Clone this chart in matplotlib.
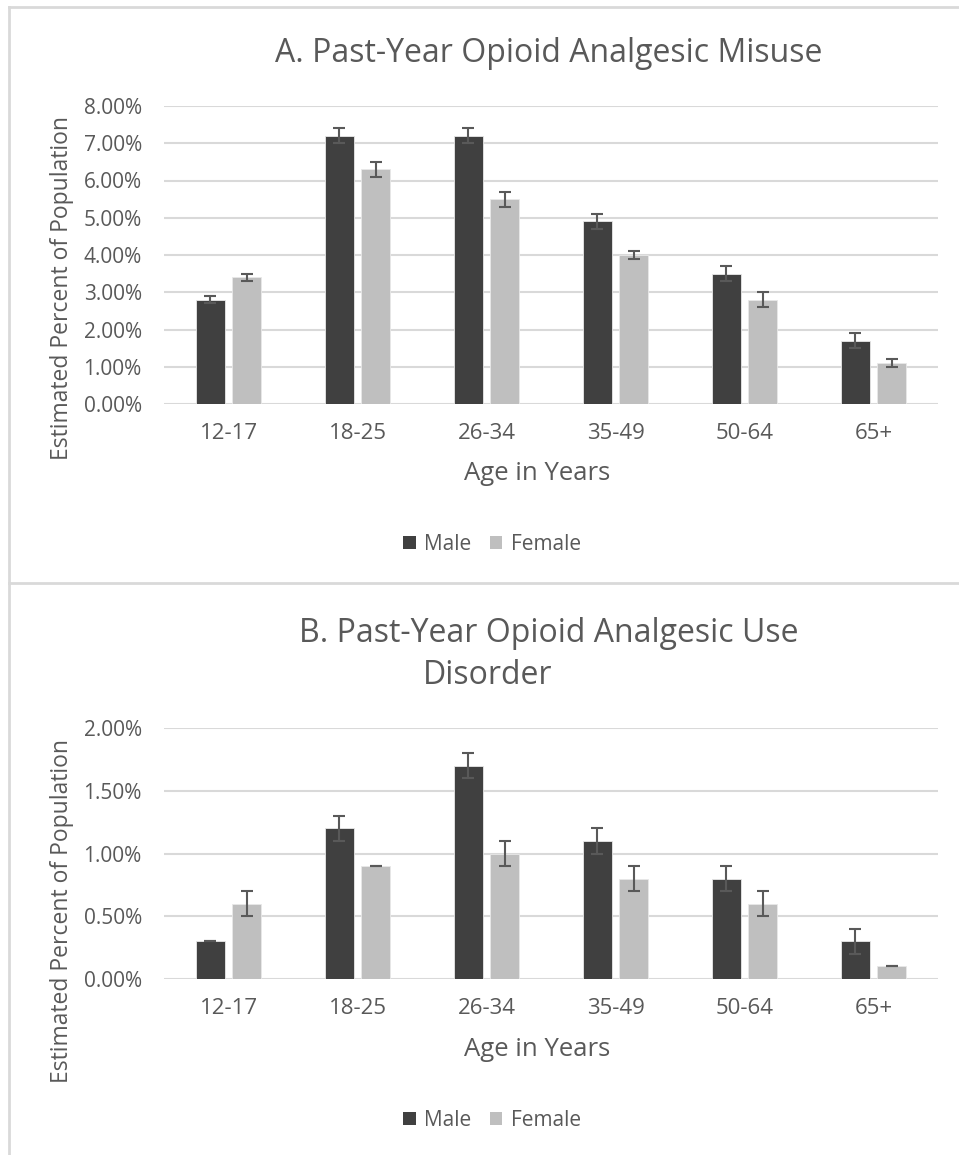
import matplotlib
matplotlib.use("Agg")
import matplotlib.pyplot as plt
from matplotlib.lines import Line2D
from matplotlib.patches import Patch
import numpy as np

plt.rcParams['font.family'] = ['Open Sans', 'DejaVu Sans']

categories = ["12-17", "18-25", "26-34", "35-49", "50-64", "65+"]
misuse_male = [2.8, 7.2, 7.2, 4.9, 3.5, 1.7]
misuse_male_err = [0.1, 0.2, 0.2, 0.2, 0.2, 0.2]
misuse_female = [3.4, 6.3, 5.5, 4.0, 2.8, 1.1]
misuse_female_err = [0.1, 0.2, 0.2, 0.1, 0.2, 0.1]
disorder_male = [0.3, 1.2, 1.7, 1.1, 0.8, 0.3]
disorder_male_err = [0.0, 0.1, 0.1, 0.1, 0.1, 0.1]
disorder_female = [0.6, 0.9, 1.0, 0.8, 0.6, 0.1]
disorder_female_err = [0.1, 0.0, 0.1, 0.1, 0.1, 0.0]
series_names = ["Male", "Female"]

W, H = 959, 1155
fig = plt.figure(figsize=(W / 100, H / 100), dpi=100)

TXT = "#595959"
GRID = "#D9D9D9"
MALE_C = "#404040"
FEM_C = "#BFBFBF"

def fx(px):
    return px / W

def fy(py):
    return 1 - py / H

def panel(ax_rect, male, male_err, fem, fem_err, ymax, ystep, title_lines,
          ylabel_y, xlabel_y, legend_y):
    ax = fig.add_axes(ax_rect)
    x = np.arange(len(categories))
    bw = 0.222
    off = 0.142
    ekw = dict(ecolor=TXT, elinewidth=1.5, capsize=4.5, capthick=1.5)
    ax.bar(x - off, male, bw, color=MALE_C, edgecolor="#E8E8E8", linewidth=0.6,
           yerr=male_err, error_kw=ekw, zorder=3)
    ax.bar(x + off, fem, bw, color=FEM_C, edgecolor="#E8E8E8", linewidth=0.6,
           yerr=fem_err, error_kw=ekw, zorder=3)
    ax.set_xlim(-0.5, len(categories) - 0.5)
    ax.set_ylim(0, ymax)
    ticks = np.arange(0, ymax + 1e-9, ystep)
    ax.set_yticks(ticks)
    ax.set_yticklabels([f"{t:.2f}%" for t in ticks])
    ax.set_xticks(x)
    ax.set_xticklabels(categories)
    for s in ax.spines.values():
        s.set_visible(False)
    ax.yaxis.grid(True, color=GRID, linewidth=1.5, zorder=0)
    ax.set_axisbelow(True)
    ax.tick_params(axis="both", length=0, colors=TXT)
    ax.tick_params(axis="y", pad=16, labelsize=15)
    ax.tick_params(axis="x", pad=14, labelsize=16)
    for (txt, tx, ty) in title_lines:
        fig.text(fx(tx), fy(ty), txt, ha="center", va="center", fontsize=23, color=TXT)
    fig.text(fx(62), fy(ylabel_y), "Estimated Percent of Population", rotation=90,
             ha="center", va="center", fontsize=16.5, color=TXT)
    fig.text(fx(537), fy(xlabel_y), "Age in Years", ha="center", va="center",
             fontsize=18.5, color=TXT)
    handles = [Patch(facecolor=MALE_C, label=series_names[0]),
               Patch(facecolor=FEM_C, label=series_names[1])]
    fig.legend(handles=handles, loc="center", bbox_to_anchor=(fx(492), fy(legend_y)),
               ncol=2, frameon=False, fontsize=15, labelcolor=TXT,
               handlelength=0.6, handleheight=0.6, handletextpad=0.4,
               columnspacing=0.9)
    return ax

panel([fx(164), fy(404), fx(938) - fx(164), fy(106) - fy(404)],
      misuse_male, misuse_male_err, misuse_female, misuse_female_err,
      8, 1, [("A. Past-Year Opioid Analgesic Misuse", 549, 53)],
      288, 474, 544)

panel([fx(164), fy(979), fx(938) - fx(164), fy(728) - fy(979)],
      disorder_male, disorder_male_err, disorder_female, disorder_female_err,
      2, 0.5, [("B. Past-Year Opioid Analgesic Use", 549, 633),
               ("Disorder", 488, 675)],
      911, 1049, 1120)

# chart borders
bc = "#D9D9D9"
fig.add_artist(Line2D([fx(9), fx(9)], [fy(7), 0], color=bc, linewidth=2))
fig.add_artist(Line2D([fx(9), 1], [fy(7), fy(7)], color=bc, linewidth=2))
fig.add_artist(Line2D([fx(9), 1], [fy(583), fy(583)], color=bc, linewidth=2))

fig.savefig("out.png", dpi=100, facecolor="white")
